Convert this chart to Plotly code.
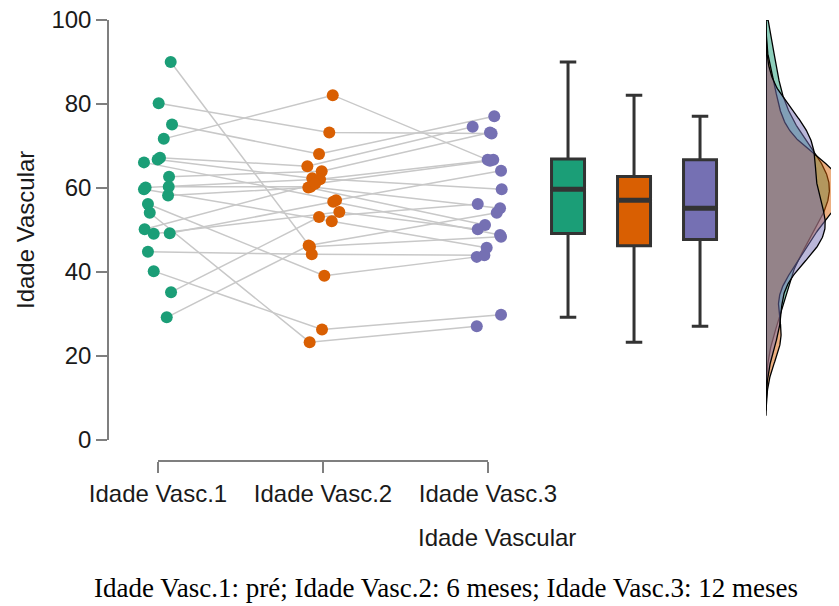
import numpy as np
import plotly.graph_objects as go

# ---------------- data (one entry per subject) ----------------
categories = ["Idade Vasc.1", "Idade Vasc.2", "Idade Vasc.3"]
vasc1 = [90.0, 80.2, 75.1, 71.7, 67.2, 66.8, 66.1, 62.7, 60.3, 60.1, 59.7,
         58.2, 56.2, 54.1, 50.2, 49.2, 49.1, 44.8, 40.2, 35.2, 29.2]
vasc2 = [46.0, 73.2, 68.1, 82.1, 65.2, 62.3, 57.1, 64.0, 60.3, 62.1, 52.1,
         60.1, 39.1, 23.3, 61.0, 56.7, 54.3, 44.2, 26.3, 53.1, 46.3]
vasc3 = [48.4, 73.0, 77.1, 66.7, 74.6, 59.7, 64.1, 73.2, 55.2, 66.7, 45.8,
         51.2, 43.6, 27.1, 66.5, 48.8, 50.2, 44.0, 29.8, 56.2, 54.1]
# horizontal jitter of each point (category units)
jit1 = [0.077, 0.004, 0.085, 0.035, 0.012, -0.002, -0.085, 0.067, 0.065, -0.075, -0.085,
        0.061, -0.061, -0.050, -0.081, 0.071, -0.026, -0.061, -0.026, 0.079, 0.053]
jit2 = [-0.079, 0.038, -0.024, 0.059, -0.095, -0.065, 0.079, -0.008, -0.075, -0.018, 0.053,
        -0.089, 0.008, -0.081, -0.048, 0.062, 0.099, -0.068, -0.006, -0.024, -0.087]
jit3 = [0.079, 0.022, 0.038, -0.002, -0.093, 0.083, 0.079, 0.012, 0.073, 0.032, -0.008,
        -0.018, -0.068, -0.068, 0.012, 0.073, -0.062, -0.022, 0.079, -0.062, 0.053]
y_ticks = [0, 20, 40, 60, 80, 100]

colors = ["#1b9e77", "#d95f02", "#7570b3"]
fills = ["rgba(27,158,119,0.5)", "rgba(217,95,2,0.5)", "rgba(117,112,179,0.5)"]

groups = [vasc1, vasc2, vasc3]
jits = [jit1, jit2, jit3]

# page has an 8px body margin: figure pixel = screen pixel - 8
OFF = 8
W, H = 839 - OFF, 606 - OFF


def fx(sx):
    return (sx - OFF) / W


def fy(sy):
    return (H - (sy - OFF)) / H


# category axis: 1 -> screen 158px, 3 -> screen 488px
PX0, PXU = 158.0 - OFF, 165.0
x_lo = 1 - PX0 / PXU
x_hi = 1 + (W - PX0) / PXU
box_pos = [3.485, 3.885, 4.285]
box_w = 0.2

fig = go.Figure()

# connecting lines
lx, ly = [], []
for i in range(len(vasc1)):
    for g in range(3):
        lx.append(g + 1 + jits[g][i])
        ly.append(groups[g][i])
    lx.append(None)
    ly.append(None)
fig.add_trace(go.Scatter(x=lx, y=ly, mode="lines",
                         line=dict(color="#c8c8c8", width=1.5),
                         hoverinfo="skip", showlegend=False))

# points
for g in range(3):
    fig.add_trace(go.Scatter(
        x=[g + 1 + j for j in jits[g]], y=groups[g], mode="markers",
        marker=dict(color=colors[g], size=12, line=dict(width=0)),
        showlegend=False, name=categories[g]))

# boxes
for g in range(3):
    fig.add_trace(go.Box(
        x=[box_pos[g]] * len(groups[g]), y=groups[g], width=box_w,
        fillcolor=colors[g], line=dict(color="#333333", width=3),
        whiskerwidth=0.5, boxpoints=False, quartilemethod="linear",
        showlegend=False, name=categories[g]))
    med = float(np.median(groups[g]))
    fig.add_trace(go.Scatter(
        x=[box_pos[g] - box_w / 2, box_pos[g] + box_w / 2], y=[med, med],
        mode="lines", line=dict(color="#333333", width=5),
        hoverinfo="skip", showlegend=False))


# densities
def kde(vals):
    v = np.asarray(vals, float)
    n = len(v)
    sd = v.std(ddof=1)
    iqr = np.quantile(v, 0.75) - np.quantile(v, 0.25)
    bw = 0.9 * min(sd, iqr / 1.34) * n ** -0.2
    lo = max(0.0, v.min() - 3 * bw)
    hi = min(100.0, v.max() + 3 * bw)
    grid = np.linspace(lo, hi, 400)
    d = np.exp(-0.5 * ((grid[:, None] - v[None, :]) / bw) ** 2).sum(1)
    d /= n * bw * np.sqrt(2 * np.pi)
    return grid, d


dens = [kde(g) for g in groups]
dmax = max(d.max() for _, d in dens)
for g in range(3):
    grid, d = dens[g]
    xs = np.concatenate([[0], d, [0, 0]])
    ys = np.concatenate([[grid[0]], grid, [grid[-1], grid[0]]])
    fig.add_trace(go.Scatter(x=xs, y=ys, mode="lines", fill="toself",
                             fillcolor=fills[g],
                             line=dict(color="black", width=1.3),
                             xaxis="x2", yaxis="y", hoverinfo="skip",
                             showlegend=False))

# dummy trace for the visible category axis
fig.add_trace(go.Scatter(x=[1, 3], y=[-50, -50], mode="markers",
                         marker=dict(size=1, color="rgba(0,0,0,0)"),
                         xaxis="x3", yaxis="y", hoverinfo="skip",
                         showlegend=False))

tick_font = dict(family="Liberation Sans, Arial, sans-serif", size=24, color="#1a1a1a")

fig.update_layout(
    width=W, height=H,
    margin=dict(l=0, r=0, t=0, b=0, autoexpand=False),
    paper_bgcolor="white", plot_bgcolor="rgba(0,0,0,0)",
    xaxis=dict(domain=[0, 1], range=[x_lo, x_hi], visible=False,
               automargin=False),
    xaxis2=dict(domain=[fx(766), 1], range=[0, dmax * 0.95], visible=False,
                anchor="y", automargin=False),
    xaxis3=dict(domain=[fx(158), fx(488)], range=[1, 3],
                anchor="free", position=fy(461), automargin=False,
                tickmode="array", tickvals=[1, 2, 3], ticktext=categories,
                showline=True, linecolor="#7f7f7f", linewidth=1.5,
                ticks="outside", ticklen=11, tickwidth=1.5, tickcolor="#7f7f7f",
                showgrid=False, zeroline=False, tickfont=tick_font,
                ticklabeloverflow="allow"),
    yaxis=dict(domain=[fy(440), fy(20)], range=[0, 100],
               anchor="free", position=fx(108), automargin=False,
               tickmode="array", tickvals=y_ticks,
               showline=True, linecolor="#7f7f7f", linewidth=1.5,
               ticks="outside", ticklen=11, tickwidth=1.5, tickcolor="#7f7f7f",
               showgrid=False, zeroline=False, tickfont=tick_font,
               ticklabeloverflow="allow"),
    annotations=[
        dict(text="Idade Vascular", x=fx(26), y=fy(230), xref="paper",
             yref="paper", textangle=-90, showarrow=False,
             font=tick_font, xanchor="center", yanchor="middle"),
        dict(text="Idade Vascular", x=fx(497), y=fy(537), xref="paper",
             yref="paper", showarrow=False, font=tick_font,
             xanchor="center", yanchor="middle"),
        dict(text="Idade Vasc.1: pré; Idade Vasc.2: 6 meses; Idade Vasc.3: 12 meses",
             x=fx(446), y=fy(588), xref="paper", yref="paper",
             showarrow=False,
             font=dict(family="Liberation Serif, Times New Roman, serif",
                       size=27, color="black"),
             xanchor="center", yanchor="middle"),
    ],
)

fig.write_html("out.html")
